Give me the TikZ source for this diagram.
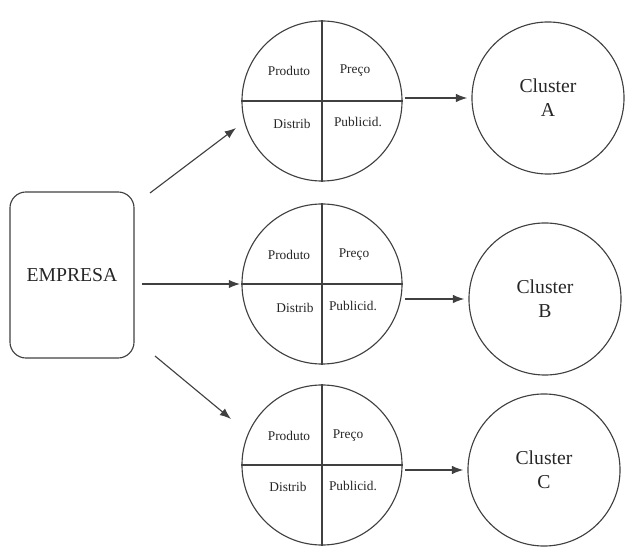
\documentclass[tikz,border=0pt]{standalone}
\usepackage{fontspec}
\setmainfont{Liberation Serif}
\usepackage{tikz}
\usetikzlibrary{arrows.meta}
\usetikzlibrary{positioning}
\tikzset{
    mix/.style={
           circle,
           draw=black!75, line width=0.8pt,
           minimum size=4cm,
           inner sep=0pt,
           },
}
\tikzset{
    cluster/.style={
           circle,
           draw=black!75, line width=0.8pt,
           minimum size=3.8cm,
           align=center,
           text=black!85,
           font=\fontsize{14}{17}\selectfont,
           },
}
\tikzset{
    empresa/.style={
           rectangle, rounded corners=0.4cm,
           draw=black!75, line width=0.8pt,
           minimum width=3.1cm, minimum height=4.15cm,
           text=black!85,
           font=\fontsize{14}{17}\selectfont,
           },
}
\tikzset{
    item/.style={
           font=\fontsize{9.5}{11}\selectfont,
           text=black!85,
           inner sep=1pt,
           },
}
\tikzset{
    seta/.style={
           -{Latex[length=8pt, width=6pt]}, draw=black!75, line width=0.8pt,
           },
}

\begin{document}
\begin{tikzpicture}[x=0.025cm, y=-0.025cm]
\useasboundingbox (0,0) rectangle (626,550);
\node[empresa] (emp) at (72,275) {EMPRESA};
\node[mix] (m1) at (322,101) {};
\node[mix] (m2) at (322,284) {};
\node[mix] (m3) at (322,465) {};
\draw[black!75, line width=0.8pt] (m1.north) -- (m1.south);
\draw[black!75, line width=0.8pt] (m1.west) -- (m1.east);
\draw[black!75, line width=0.8pt] (m2.north) -- (m2.south);
\draw[black!75, line width=0.8pt] (m2.west) -- (m2.east);
\draw[black!75, line width=0.8pt] (m3.north) -- (m3.south);
\draw[black!75, line width=0.8pt] (m3.west) -- (m3.east);
\node[item] (p1) at (289,71) {Produto};
\node[item] (q1) at (355,71) {Preço};
\node[item] (d1) at (292,124) {Distrib};
\node[item] (u1) at (358,122) {Publicid.};
\node[item] (p2) at (289,255) {Produto};
\node[item] (q2) at (354,255) {Preço};
\node[item] (d2) at (295,308) {Distrib};
\node[item] (u2) at (353,306) {Publicid.};
\node[item] (p3) at (289,436) {Produto};
\node[item] (q3) at (348,436) {Preço};
\node[item] (d3) at (288,487) {Distrib};
\node[item] (u3) at (353,486) {Publicid.};
\node[cluster] (cA) at (548,98) {Cluster\\A};
\node[cluster] (cB) at (545,299) {Cluster\\B};
\node[cluster] (cC) at (544,470) {Cluster\\C};
\coordinate (up1) at (150,193);
\coordinate (up2) at (236,128);
\coordinate (dn1) at (155,356);
\coordinate (dn2) at (231,419);
\draw[seta] (up1) to (up2);
\draw[seta] (dn1) to (dn2);
\draw[seta, shorten <=5pt, shorten >=1pt] (emp.east |- m2.west) to (m2.west);
\draw[seta, shorten <=2pt, shorten >=3pt] (m1.east |- cA.west) to (cA.west);
\draw[seta, shorten <=2pt, shorten >=3pt] (m2.east |- cB.west) to (cB.west);
\draw[seta, shorten <=2pt, shorten >=3pt] (m3.east |- cC.west) to (cC.west);
\end{tikzpicture}
\end{document}
